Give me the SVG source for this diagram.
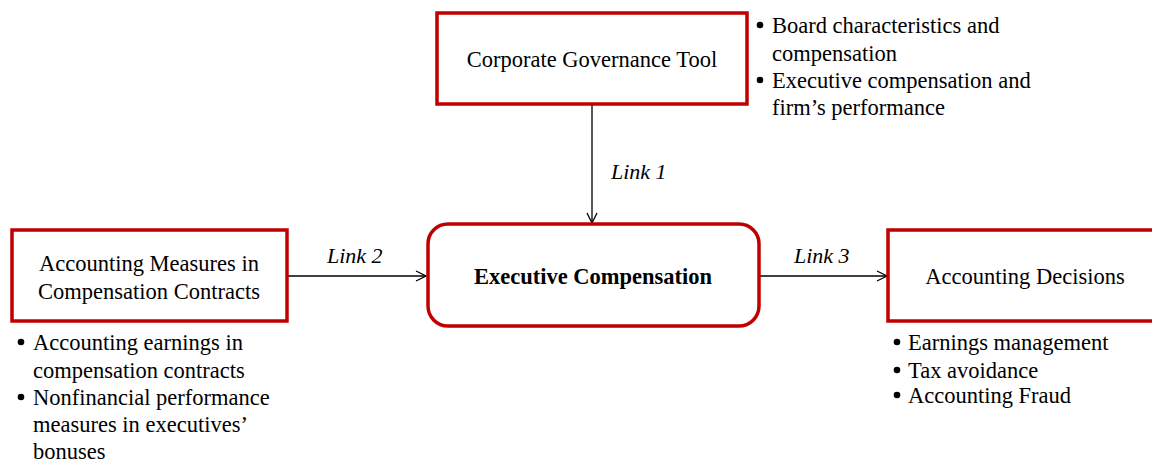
<svg xmlns="http://www.w3.org/2000/svg" width="1152" height="462" viewBox="0 0 1152 462">
  <style>
    .box { fill: #ffffff; stroke: #c00000; stroke-width: 3.5; }
    .t { font-family: "Liberation Serif", "Times New Roman", serif; font-size: 22.5px; fill: #000000; }
    .c { text-anchor: middle; }
    .b { font-weight: bold; }
    .i { font-style: italic; font-size: 22px; }
    .dot { fill: #000000; }
    .link { stroke: #000000; stroke-width: 1.3; fill: none; marker-end: url(#arrow); }
  </style>
  <defs>
    <marker id="arrow" viewBox="0 0 12 12" refX="11" refY="6" markerWidth="12" markerHeight="12" markerUnits="userSpaceOnUse" orient="auto">
      <path d="M1,1 L11,6 L1,11" fill="none" stroke="#000000" stroke-width="1.3"/>
    </marker>
  </defs>
  <rect width="1152" height="462" fill="#ffffff"/>

  <!-- connectors -->
  <g id="connectors">
    <line class="link" x1="592" y1="105" x2="592" y2="223"/>
    <line class="link" x1="288" y1="276" x2="426" y2="276"/>
    <line class="link" x1="760" y1="276" x2="887" y2="276"/>
    <text class="t i" x="611" y="179">Link 1</text>
    <text class="t i" x="327" y="263">Link 2</text>
    <text class="t i" x="794" y="263">Link 3</text>
  </g>

  <!-- governance node -->
  <g id="governance">
    <rect class="box" x="437" y="13" width="310" height="91"/>
    <text class="t c" x="592" y="67">Corporate Governance Tool</text>
    <circle class="dot" cx="760" cy="25" r="3.3"/>
    <text class="t" x="772" y="33">Board characteristics and</text>
    <text class="t" x="772" y="61">compensation</text>
    <circle class="dot" cx="760" cy="80" r="3.3"/>
    <text class="t" x="772" y="88">Executive compensation and</text>
    <text class="t" x="772" y="115">firm’s performance</text>
  </g>

  <!-- accounting measures node -->
  <g id="measures">
    <rect class="box" x="12" y="230" width="275" height="91"/>
    <text class="t c" x="149" y="271">Accounting Measures in</text>
    <text class="t c" x="149" y="299">Compensation Contracts</text>
    <circle class="dot" cx="21" cy="342" r="3.3"/>
    <text class="t" x="33" y="350">Accounting earnings in</text>
    <text class="t" x="33" y="378">compensation contracts</text>
    <circle class="dot" cx="21" cy="397" r="3.3"/>
    <text class="t" x="33" y="405">Nonfinancial performance</text>
    <text class="t" x="33" y="432">measures in executives’</text>
    <text class="t" x="33" y="459">bonuses</text>
  </g>

  <!-- executive compensation node -->
  <g id="compensation">
    <rect class="box" x="428" y="224" width="331" height="102" rx="20" ry="20"/>
    <text class="t c b" x="593" y="284">Executive Compensation</text>
  </g>

  <!-- accounting decisions node -->
  <g id="decisions">
    <rect class="box" x="888" y="230" width="280" height="91"/>
    <text class="t c" x="1025" y="284">Accounting Decisions</text>
    <circle class="dot" cx="897" cy="342" r="3.3"/>
    <text class="t" x="908" y="350">Earnings management</text>
    <circle class="dot" cx="897" cy="370" r="3.3"/>
    <text class="t" x="908" y="378">Tax avoidance</text>
    <circle class="dot" cx="897" cy="395" r="3.3"/>
    <text class="t" x="908" y="403">Accounting Fraud</text>
  </g>
</svg>
